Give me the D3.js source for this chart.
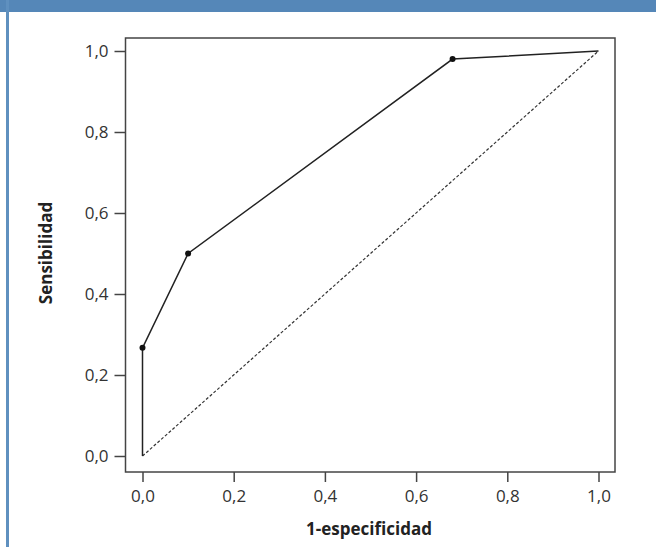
<!doctype html>
<html>
  <head>
    <meta charset="utf-8">
    <script src="https://cdn.jsdelivr.net/npm/d3@7"></script>
    <style>
      html, body { margin: 0; padding: 0; background: #ffffff; }
      svg { display: block; }
    </style>
  </head>
  <body>
    <svg id="chart"></svg>
    <script>
      // datos de la curva ROC
      var fpr = [0, 0, 0.1, 0.68, 1];          // 1-especificidad
      var tpr = [0, 0.267, 0.5, 0.98, 1];      // sensibilidad
      var marked = [false, true, true, true, false]; // puntos con marcador
      var tickValues = [0, 0.2, 0.4, 0.6, 0.8, 1.0];
      var xTitle = "1-especificidad";
      var yTitle = "Sensibilidad";

      var width = 656, height = 547;
      var font = "'Open Sans', 'Noto Sans', sans-serif";
      var svg = d3.select("#chart").attr("width", width).attr("height", height);

      // marco azul (barra superior y borde izquierdo)
      svg.append("rect").attr("x", 0).attr("y", 0).attr("width", width).attr("height", 12).attr("fill", "#5587b8");
      svg.append("rect").attr("x", 6).attr("y", 0).attr("width", 3).attr("height", height).attr("fill", "#5f90bf");

      // caja del gráfico
      var box = { left: 125.5, top: 38, right: 615, bottom: 472 };

      var x = d3.scaleLinear().domain([0, 1]).range([142.5, 598.5]);
      var y = d3.scaleLinear().domain([0, 1]).range([456, 51]);

      var fmt = function(d){ return d3.format(".1f")(d).replace(".", ","); };

      svg.append("rect")
        .attr("x", box.left).attr("y", box.top)
        .attr("width", box.right - box.left).attr("height", box.bottom - box.top)
        .attr("fill", "none").attr("stroke", "#444").attr("stroke-width", 1.5);

      var xAxis = svg.append("g")
        .attr("transform", "translate(0," + box.bottom + ")")
        .call(d3.axisBottom(x).tickValues(tickValues).tickFormat(fmt).tickSize(10).tickPadding(8));
      var yAxis = svg.append("g")
        .attr("transform", "translate(" + box.left + ",0)")
        .call(d3.axisLeft(y).tickValues(tickValues).tickFormat(fmt).tickSize(11).tickPadding(6));
      [xAxis, yAxis].forEach(function(g){
        g.select(".domain").remove();
        g.attr("font-family", font).attr("font-size", 17);
        g.selectAll(".tick line").attr("stroke", "#444").attr("stroke-width", 1.5);
        g.selectAll(".tick text").attr("fill", "#333");
      });

      // diagonal de referencia
      svg.append("line")
        .attr("x1", x(0)).attr("y1", y(0)).attr("x2", x(1)).attr("y2", y(1))
        .attr("stroke", "#333").attr("stroke-width", 1.2).attr("stroke-dasharray", "3,2");

      // curva ROC
      var pts = fpr.map(function(d, i){ return { fx: d, ty: tpr[i], m: marked[i] }; });
      svg.append("path")
        .datum(pts)
        .attr("d", d3.line().x(function(d){ return x(d.fx); }).y(function(d){ return y(d.ty); }))
        .attr("fill", "none").attr("stroke", "#222").attr("stroke-width", 1.5);

      svg.selectAll("circle.pt").data(pts.filter(function(d){ return d.m; }))
        .enter().append("circle")
        .attr("class", "pt")
        .attr("cx", function(d){ return x(d.fx); })
        .attr("cy", function(d){ return y(d.ty); })
        .attr("r", 3).attr("fill", "#111");

      // títulos de ejes
      svg.append("text")
        .attr("x", 369).attr("y", 535).attr("text-anchor", "middle")
        .attr("font-family", font).attr("font-size", 17).attr("font-weight", "bold").attr("fill", "#222")
        .text(xTitle);
      svg.append("text")
        .attr("transform", "translate(52,253) rotate(-90)").attr("text-anchor", "middle")
        .attr("font-family", font).attr("font-size", 17).attr("font-weight", "bold").attr("fill", "#222")
        .text(yTitle);
    </script>
  </body>
</html>
